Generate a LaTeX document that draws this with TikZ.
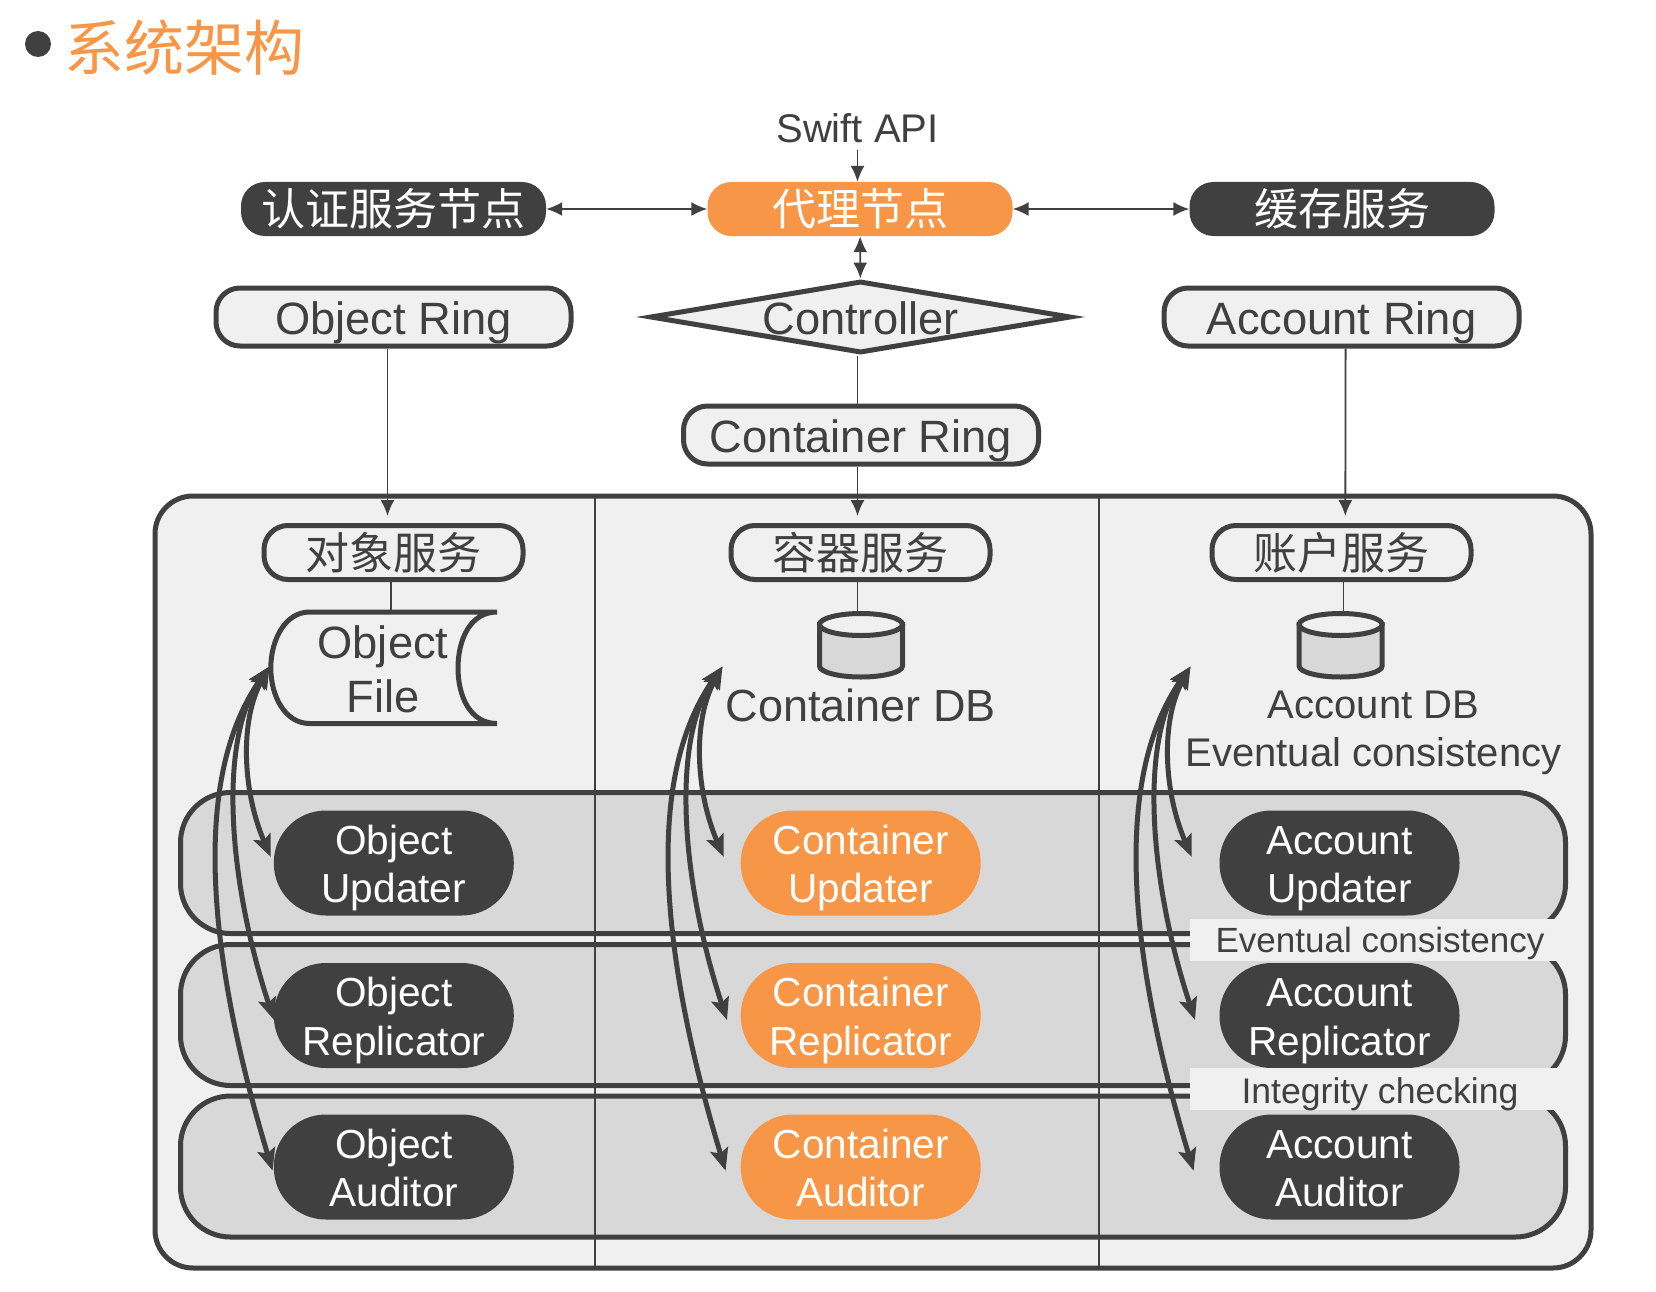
\documentclass[tikz,border=0pt]{standalone}
\usepackage{fontspec}
\setmainfont{Liberation Sans}
\newfontfamily\cjk{Noto Sans CJK SC}
\usetikzlibrary{arrows.meta,shapes.geometric}

\definecolor{inkgray}{HTML}{404040}
\definecolor{orangefill}{HTML}{F79646}
\definecolor{framefill}{HTML}{F0F0F0}
\definecolor{bandfill}{HTML}{D8D8D8}

\tikzset{
  thin line/.style={draw=inkgray, line width=1.8pt},
  thin arrow/.style={thin line, >={Latex[length=16pt,width=14pt]}},
  fan arrow/.style={draw=inkgray, line width=5pt, <->, >={Stealth[length=22pt,width=18pt,inset=4pt]}},
  topbox/.style={rounded corners=24pt, minimum width=305pt, minimum height=54pt, inner sep=0pt, text=white, font=\cjk\fontsize{44}{44}\selectfont},
  ringbox/.style={draw=inkgray, line width=5pt, fill=framefill, rounded corners=24pt, minimum width=355pt, minimum height=58pt, inner sep=0pt, text=inkgray, text height=36pt, text depth=1.6pt, font=\fontsize{45.3}{45}\selectfont},
  servicebox/.style={draw=inkgray, line width=5pt, rounded corners=24pt, minimum width=259pt, minimum height=54pt, inner sep=0pt, text=inkgray, font=\cjk\fontsize{44}{44}\selectfont},
  bandbox/.style={draw=inkgray, fill=bandfill, line width=5pt, rounded corners=50pt, minimum width=1385pt, minimum height=141pt, inner sep=0pt},
  workerbox/.style={rounded corners=52pt, minimum width=240pt, minimum height=105pt, inner sep=0pt, text=white, align=center, font=\fontsize{40.6}{48.5}\selectfont},
  labeltext/.style={text=inkgray, align=center, inner sep=0pt, font=\fontsize{40}{48}\selectfont},
  notebox/.style={fill=framefill, text=inkgray, minimum width=368pt, minimum height=42pt, inner sep=0pt, text height=26pt, text depth=1.8pt}
}

\begin{document}
\begin{tikzpicture}[x=1pt,y=-1pt]
  \useasboundingbox (0,0) rectangle (1656,1292);

  % Title
  \node (bullet) [circle, fill=inkgray, minimum size=26pt, inner sep=0pt] at (38,44) {};
  \node (title) [text=orangefill, inner sep=0pt, font=\cjk\fontsize{60}{60}\selectfont] at (184.5,48) {系统架构};

  % Top row
  \node (api) [labeltext] at (857.5,128) {Swift API};
  \node (auth) [topbox, fill=inkgray] at (393.5,209) {认证服务节点};
  \node (proxy) [topbox, fill=orangefill] at (860,209) {代理节点};
  \node (cache) [topbox, fill=inkgray] at (1342,209) {缓存服务};

  % Rings
  \node (objring) [ringbox] at (393.5,317) {Object Ring};
  \node (ctrl) [diamond, draw=inkgray, line width=5pt, fill=framefill, minimum width=421pt, minimum height=72pt, inner sep=0pt,
    label={[text=inkgray, yshift=-1.5pt, font=\fontsize{45.3}{45}\selectfont]center:Controller}] at (860.5,317) {};
  \node (accring) [ringbox] at (1341.6,317) {Account Ring};
  \node (conring) [ringbox] at (861,435) {Container Ring};

  % Frame, bands and dividers
  \node (frame) [draw=inkgray, fill=framefill, line width=5pt, rounded corners=38pt, minimum width=1436pt, minimum height=772pt, inner sep=0pt] at (873,882) {};
  \node (band1) [bandbox] at (873,863) {};
  \node (band2) [bandbox] at (873,1015) {};
  \node (band3) [bandbox] at (873,1166.5) {};
  \draw[draw=inkgray, line width=2pt] (595,495) -- (595,1267);
  \draw[draw=inkgray, line width=2pt] (1098.5,495) -- (1098.5,1267);

  % Services
  \node (objsvc) [servicebox] at (393.5,552.5) {对象服务};
  \node (consvc) [servicebox] at (860.5,552.5) {容器服务};
  \node (accsvc) [servicebox] at (1341.5,552.5) {账户服务};

  % Stores
  \draw[draw=inkgray, fill=framefill, line width=5pt, line cap=round]
    (497,612) .. controls (470,612) and (458,640) .. (458,668)
    .. controls (458,696) and (470,723.5) .. (497,723.5) -- (309.6,723.5)
    .. controls (285,723.5) and (270.8,696) .. (270.8,668)
    .. controls (270.8,640) and (285,612) .. (309.6,612) -- cycle;
  \coordinate (objtop) at (391,612);
  \node (objfile) [labeltext, font=\fontsize{45.3}{54}\selectfont] at (383,669) {Object\\File};
  \foreach \n/\x in {condb/861, accdb/1340.6} {
    \coordinate (\n) at (\x,613.5);
    \draw[draw=inkgray, fill=bandfill, line width=5pt]
      (\x-41.5,624.5) -- (\x-41.5,666) arc[start angle=180, end angle=360, x radius=41.5pt, y radius=11pt] -- (\x+41.5,624.5) -- cycle;
    \draw[draw=inkgray, fill=framefill, line width=5pt] (\x,624.5) ellipse [x radius=41.5pt, y radius=11pt];
  }
  \node (condbtext) [labeltext, font=\fontsize{45}{45}\selectfont] at (860.6,705.5) {Container DB};
  \node (accdbtext) [labeltext] at (1373.5,733) {Account DB\\Eventual consistency};

  % Workers
  \foreach \n/\x/\c/\first in {obj/393.8/inkgray/Object, con/860.7/orangefill/Container, acc/1339.5/inkgray/Account}
    \foreach \m/\y/\second in {upd/863/Updater, rep/1015.5/Replicator, aud/1167/Auditor}
      \node (\n\m) [workerbox, fill=\c] at (\x,\y) {\rule{0pt}{40pt}\first\\\second\rule[-8.7pt]{0pt}{8.7pt}};

  % Notes over the bands
  \node (note1) [notebox, font=\fontsize{35}{35}\selectfont] at (1374,940) {\hspace*{12pt}Eventual consistency};
  \node (note2) [notebox, text height=30pt, text depth=2pt, font=\fontsize{35.6}{35}\selectfont] at (1374,1089) {\hspace*{12pt}Integrity checking};

  % Thin connectors
  \draw[thin arrow, ->] (api.south |- 0,150) -- (api.south |- proxy.north);
  \draw[thin arrow, <->] (auth) -- (proxy);
  \draw[thin arrow, <->] (proxy) -- (cache);
  \draw[thin arrow, <->] (proxy) -- (ctrl);
  \draw[thin arrow, ->] ([xshift=-6pt]objring.south) -- ([xshift=-6pt,yshift=7pt]objsvc.north);
  \draw[thin line] (ctrl.south -| api) -- (conring.north -| api);
  \draw[thin arrow, ->] (conring.south -| api) -- ([yshift=7pt]consvc.north -| api);
  \draw[thin arrow, ->] ([xshift=4pt]accring.south) -- ([xshift=3.8pt,yshift=7pt]accsvc.north);
  \draw[thin line] (objsvc.south -| objtop) -- (objtop);
  \draw[thin line] (consvc.south -| api) -- (condb -| api);
  \draw[thin line] ([xshift=2pt]accsvc.south) -- ([xshift=2.9pt]accdb);

  % Fans of arrows
  \foreach \n/\dx in {obj/0, con/453, acc/921} {
    \coordinate (\n top) at (269.5+\dx,666.5);
    \coordinate (\n upd end) at (270.8+\dx,857);
    \coordinate (\n rep end) at (274+\dx,1020);
    \coordinate (\n aud end) at (272.6+\dx,1170.7);
    \draw[fan arrow] (\n top) .. controls (240+\dx,720) and (242+\dx,790) .. (\n upd end);
    \draw[fan arrow] (\n top) .. controls (218+\dx,740) and (228+\dx,880) .. (\n rep end);
    \draw[fan arrow] (\n top) .. controls (183+\dx,790) and (218+\dx,990) .. (\n aud end);
  }
\end{tikzpicture}
\end{document}
